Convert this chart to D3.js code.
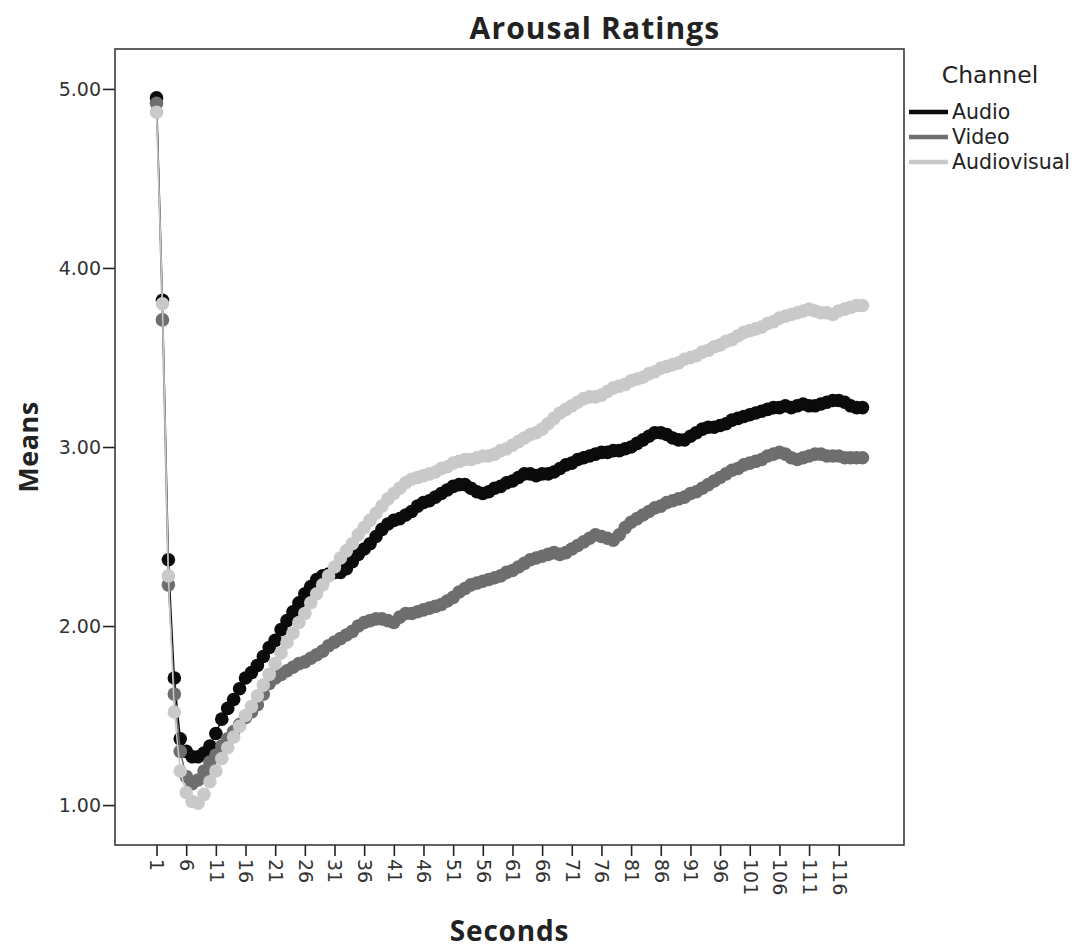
<!DOCTYPE html>
<html>
<head>
<meta charset="utf-8">
<script src="https://cdn.jsdelivr.net/npm/d3@7"></script>
<style>
  body { margin: 0; background: #fff; }
  text { font-family: "DejaVu Sans", sans-serif; }
</style>
</head>
<body>
<div id="chart-container"></div>
<script>
const margin = { top: 49, right: 175, bottom: 107, left: 115 };
const width = 1079 - margin.left - margin.right;
const height = 952 - margin.top - margin.bottom;

// seconds 1..120
const seconds = d3.range(1, 121);
const xTickValues = [1, 6, 11, 16, 21, 26, 31, 36, 41, 46, 51, 56, 61, 66, 71, 76, 81, 86, 91, 96, 101, 106, 111, 116];
const yTickValues = [1, 2, 3, 4, 5];

const channels = ["Audio", "Video", "Audiovisual"];
const channelColors = ["#0b0b0b", "#6e6e6e", "#c9c9c9"];

const audioMeans = [
    4.95, 3.82, 2.37, 1.71, 1.37, 1.30, 1.27, 1.27, 1.29, 1.33,
    1.40, 1.48, 1.54, 1.59, 1.65, 1.71, 1.74, 1.78, 1.83, 1.88,
    1.92, 1.98, 2.03, 2.08, 2.13, 2.18, 2.22, 2.26, 2.28, 2.29,
    2.30, 2.30, 2.32, 2.36, 2.40, 2.43, 2.46, 2.50, 2.54, 2.57,
    2.59, 2.60, 2.62, 2.64, 2.67, 2.69, 2.70, 2.72, 2.74, 2.76,
    2.78, 2.79, 2.79, 2.77, 2.75, 2.74, 2.75, 2.77, 2.78, 2.80,
    2.81, 2.83, 2.85, 2.85, 2.84, 2.85, 2.85, 2.86, 2.88, 2.90,
    2.91, 2.93, 2.94, 2.95, 2.96, 2.97, 2.97, 2.98, 2.98, 2.99,
    3.00, 3.02, 3.04, 3.06, 3.08, 3.08, 3.07, 3.05, 3.04, 3.04,
    3.06, 3.08, 3.10, 3.11, 3.11, 3.12, 3.13, 3.15, 3.16, 3.17,
    3.18, 3.19, 3.20, 3.21, 3.22, 3.22, 3.23, 3.22, 3.23, 3.24,
    3.23, 3.23, 3.24, 3.25, 3.26, 3.26, 3.25, 3.23, 3.22, 3.22
];

const videoMeans = [
    4.92, 3.71, 2.23, 1.62, 1.30, 1.16, 1.12, 1.14, 1.19, 1.24,
    1.28, 1.33, 1.37, 1.41, 1.45, 1.49, 1.52, 1.56, 1.62, 1.68,
    1.71, 1.73, 1.75, 1.77, 1.79, 1.80, 1.82, 1.84, 1.86, 1.89,
    1.91, 1.93, 1.95, 1.97, 2.00, 2.02, 2.03, 2.04, 2.04, 2.03,
    2.02, 2.05, 2.07, 2.07, 2.08, 2.09, 2.10, 2.11, 2.12, 2.14,
    2.16, 2.19, 2.21, 2.23, 2.24, 2.25, 2.26, 2.27, 2.28, 2.30,
    2.31, 2.33, 2.35, 2.37, 2.38, 2.39, 2.40, 2.41, 2.40, 2.41,
    2.43, 2.45, 2.47, 2.49, 2.51, 2.50, 2.49, 2.48, 2.51, 2.55,
    2.58, 2.60, 2.62, 2.64, 2.66, 2.67, 2.69, 2.70, 2.71, 2.72,
    2.74, 2.75, 2.77, 2.79, 2.81, 2.83, 2.85, 2.87, 2.88, 2.90,
    2.91, 2.92, 2.93, 2.95, 2.96, 2.97, 2.96, 2.94, 2.93, 2.94,
    2.95, 2.96, 2.96, 2.95, 2.95, 2.95, 2.94, 2.94, 2.94, 2.94
];

const audiovisualMeans = [
    4.87, 3.80, 2.28, 1.52, 1.19, 1.07, 1.02, 1.01, 1.06, 1.13,
    1.19, 1.26, 1.32, 1.38, 1.44, 1.50, 1.55, 1.61, 1.67, 1.73,
    1.79, 1.85, 1.91, 1.96, 2.02, 2.07, 2.13, 2.18, 2.23, 2.28,
    2.33, 2.38, 2.42, 2.46, 2.51, 2.55, 2.59, 2.63, 2.67, 2.71,
    2.74, 2.77, 2.80, 2.82, 2.83, 2.84, 2.85, 2.86, 2.88, 2.89,
    2.91, 2.92, 2.93, 2.93, 2.94, 2.95, 2.95, 2.96, 2.98, 2.99,
    3.01, 3.03, 3.05, 3.07, 3.08, 3.10, 3.13, 3.16, 3.19, 3.21,
    3.23, 3.25, 3.27, 3.28, 3.28, 3.29, 3.31, 3.33, 3.34, 3.35,
    3.37, 3.38, 3.39, 3.41, 3.42, 3.44, 3.45, 3.46, 3.47, 3.49,
    3.50, 3.51, 3.53, 3.54, 3.56, 3.57, 3.59, 3.60, 3.62, 3.64,
    3.65, 3.66, 3.67, 3.69, 3.70, 3.72, 3.73, 3.74, 3.75, 3.76,
    3.77, 3.76, 3.75, 3.75, 3.74, 3.76, 3.77, 3.78, 3.79, 3.79
];

const seriesValues = [audioMeans, videoMeans, audiovisualMeans];

// Create SVG element
var svg = d3.select("#chart-container")
    .append("svg")
    .attr("width", width + margin.left + margin.right)
    .attr("height", height + margin.top + margin.bottom)
    .append("g")
    .attr("transform", `translate(${margin.left}, ${margin.top})`);

var xScale = d3.scalePoint()
    .domain(seconds)
    .range([0, width])
    .padding(7);

var yScale = d3.scaleLinear()
    .domain([0.777, 5.223])
    .range([height, 0]);

// y axis
var yAxis = svg.append("g")
    .call(d3.axisLeft(yScale)
        .tickValues(yTickValues)
        .tickFormat(d3.format(".2f"))
        .tickSize(12)
        .tickSizeOuter(0)
        .tickPadding(2));
yAxis.select(".domain").remove();
yAxis.selectAll(".tick line").attr("stroke", "#222").attr("stroke-width", 1.6);
yAxis.selectAll(".tick text")
    .style("font-family", "DejaVu Sans")
    .style("font-size", "19px")
    .attr("fill", "#333");

// x axis
var xAxis = svg.append("g")
    .attr("transform", `translate(0, ${height})`)
    .call(d3.axisBottom(xScale)
        .tickValues(xTickValues)
        .tickSize(11)
        .tickSizeOuter(0));
xAxis.select(".domain").remove();
xAxis.selectAll(".tick line").attr("stroke", "#222").attr("stroke-width", 1.6);
xAxis.selectAll(".tick text")
    .attr("transform", "rotate(90)")
    .attr("x", 14)
    .attr("y", 0)
    .attr("dy", "0.35em")
    .attr("text-anchor", "start")
    .style("font-family", "DejaVu Sans")
    .style("font-size", "19px")
    .attr("fill", "#333");

// frame
svg.append("rect")
    .attr("width", width)
    .attr("height", height)
    .attr("fill", "none")
    .attr("stroke", "#3a3a3a")
    .attr("stroke-width", 1.6);

// Title
svg.append("text")
    .attr("x", (width + margin.right) / 2 - 2)
    .attr("y", -10)
    .attr("text-anchor", "middle")
    .style("font-family", "Open Sans")
    .style("font-weight", "bold")
    .style("font-size", "30px")
    .style("letter-spacing", "1.1px")
    .attr("fill", "#222")
    .text("Arousal Ratings");

// axis labels
svg.append("text")
    .attr("x", width / 2)
    .attr("y", height + 96)
    .attr("text-anchor", "middle")
    .style("font-family", "Open Sans")
    .style("font-weight", "bold")
    .style("font-size", "28px")
    .style("letter-spacing", "0.8px")
    .attr("fill", "#222")
    .text("Seconds");

svg.append("text")
    .attr("transform", "rotate(-90)")
    .attr("x", -height / 2)
    .attr("y", -margin.left + 38)
    .attr("text-anchor", "middle")
    .style("font-family", "Open Sans")
    .style("font-weight", "bold")
    .style("font-size", "27px")
    .style("letter-spacing", "0.5px")
    .attr("fill", "#222")
    .text("Means");

// series
var valueLine = d3.line()
    .x(function (d) { return xScale(d.sec) })
    .y(function (d) { return yScale(d.val) });

channels.forEach(function (name, i) {
    var points = seconds.map(function (s, j) { return { sec: s, val: seriesValues[i][j] }; });
    var g = svg.append("g").attr("class", "series-" + name);
    g.append("path")
        .datum(points)
        .attr("fill", "none")
        .attr("stroke", channelColors[i])
        .attr("stroke-width", 1.5)
        .attr("d", valueLine);
    g.selectAll("circle")
        .data(points)
        .enter().append("circle")
        .attr("cx", function (d) { return xScale(d.sec) })
        .attr("cy", function (d) { return yScale(d.val) })
        .attr("r", 6.8)
        .attr("fill", channelColors[i]);
});

// legend
var legend = svg.append("g")
    .attr("transform", `translate(${width}, 0)`);

legend.append("text")
    .attr("x", 86)
    .attr("y", 34)
    .attr("text-anchor", "middle")
    .style("font-family", "DejaVu Sans")
    .style("font-size", "23.5px")
    .attr("fill", "#222")
    .text("Channel");

channels.forEach(function (name, i) {
    var yPos = 63 + i * 25;
    legend.append("line")
        .attr("x1", 5)
        .attr("x2", 44)
        .attr("y1", yPos)
        .attr("y2", yPos)
        .attr("stroke", channelColors[i])
        .attr("stroke-width", 4.5);
    legend.append("text")
        .attr("x", 48)
        .attr("y", yPos + 7)
        .style("font-family", "DejaVu Sans")
        .style("font-size", "20.5px")
        .attr("fill", "#222")
        .text(name);
});
</script>
</body>
</html>
